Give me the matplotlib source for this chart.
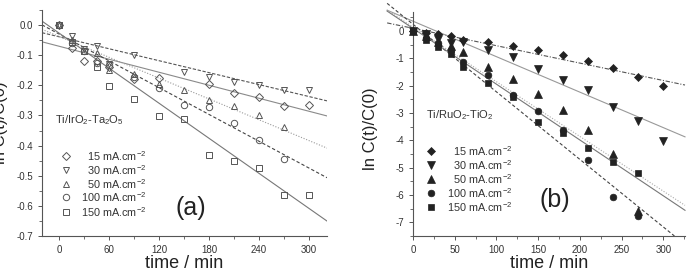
import numpy as np
import matplotlib
matplotlib.use("Agg")
import matplotlib.pyplot as plt
from matplotlib.ticker import MultipleLocator, FormatStrFormatter

plt.rcParams['font.family'] = ['Liberation Sans', 'DejaVu Sans']
plt.rcParams['axes.unicode_minus'] = False
plt.rcParams['mathtext.fontset'] = 'custom'
plt.rcParams['mathtext.rm'] = 'Liberation Sans'
plt.rcParams['mathtext.it'] = 'Liberation Sans:italic'
plt.rcParams['mathtext.bf'] = 'Liberation Sans:bold'
plt.rcParams['mathtext.default'] = 'regular'

# ---------------- data ----------------
labels = ["15", "30", "50", "100", "150"]

t_a = [0, 15, 30, 45, 60, 90, 120, 150, 180, 210, 240, 270, 300]
a_15 = [0.0, -0.076, -0.12, -0.12, -0.14, -0.178, -0.175, np.nan, -0.195, -0.225, -0.238, -0.268, -0.265]
a_30 = [0.0, -0.037, -0.081, -0.07, -0.13, -0.098, np.nan, -0.156, -0.172, -0.189, -0.2, -0.214, -0.214]
a_50 = [0.0, -0.05, -0.085, -0.094, -0.15, -0.163, -0.195, -0.214, -0.25, -0.27, -0.3, -0.337, np.nan]
a_100 = [0.0, -0.06, -0.085, -0.125, -0.133, -0.172, -0.208, -0.264, -0.272, -0.326, -0.383, -0.443, np.nan]
a_150 = [0.0, -0.055, -0.085, -0.139, -0.201, -0.247, -0.303, -0.313, -0.431, -0.452, -0.474, -0.563, -0.563]
a_series = [a_15, a_30, a_50, a_100, a_150]
a_slope = [-0.000718, -0.00066, -0.00115, -0.00148, -0.001936]
a_icpt = [-0.0704, -0.039, -0.038, -0.03, -0.027]

t_b = [0, 15, 30, 45, 60, 90, 120, 150, 180, 210, 240, 270, 300]
b_15 = [0.0, -0.07, -0.13, -0.2, -0.32, -0.4, -0.55, -0.71, -0.89, -1.11, -1.35, -1.7, -2.02]
b_30 = [0.0, -0.1, -0.3, -0.45, -0.41, -0.69, -0.96, -1.41, -1.8, -2.17, -2.78, -3.31, -4.02]
b_50 = [0.0, -0.2, -0.4, -0.56, -0.79, -1.31, -1.75, -2.31, -2.9, -3.64, -4.52, -6.59, np.nan]
b_100 = [0.0, -0.26, -0.44, -0.71, -1.13, -1.63, -2.35, -2.93, -3.63, -4.71, -6.09, -6.77, np.nan]
b_150 = [0.0, -0.32, -0.58, -0.83, -1.31, -1.92, -2.41, -3.34, -3.75, -4.3, -4.81, -5.21, np.nan]
b_series = [b_15, b_30, b_50, b_100, b_150]
b_slope = [-0.00636, -0.01297, -0.0200, -0.0247, -0.0204]
b_icpt = [0.093, 0.353, 0.14, 0.24, 0.09]

# ---------------- styles ----------------
a_markers = ['D', 'v', '^', 'o', 's']
a_msize = [4.0, 5.0, 5.0, 4.6, 4.2]
a_lcolor = ['#8a8a8a', '#555555', '#9a9a9a', '#444444', '#777777']
a_lstyle = ['-', (0, (3, 1.5)), (0, (1, 1.5)), (0, (3, 2)), '-']

b_markers = ['D', 'v', '^', 'o', 's']
b_msize = [4.2, 5.2, 5.2, 4.8, 4.6]
b_lcolor = ['#555555', '#999999', '#aaaaaa', '#444444', '#777777']
b_lstyle = [(0, (4, 1.5, 1, 1.5)), '-', (0, (1, 1.5)), (0, (3, 2)), '-']

fig = plt.figure(figsize=(6.9, 2.78), dpi=100)
ax_a = fig.add_axes([42/690, 1-236/278, (327-42)/690, (236-10)/278])
ax_b = fig.add_axes([413/690, 1-236/278, (685-413)/690, (236-11.7)/278])

axis_col = '#555555'
text_col = '#333333'

def style_axes(ax):
    for s in ['top', 'right']:
        ax.spines[s].set_visible(False)
    for s in ['left', 'bottom']:
        ax.spines[s].set_color(axis_col)
        ax.spines[s].set_linewidth(0.8)
    ax.tick_params(which='both', direction='out', colors=axis_col, labelcolor=text_col, labelsize=7)
    ax.tick_params(which='major', length=3, width=0.7)
    ax.tick_params(which='minor', length=2, width=0.6)
    ax.set_facecolor('none')

leg_fs = 7.8

# ---------------- panel (a) ----------------
ax = ax_a
style_axes(ax)
ax.set_xlim(-20.7, 322)
ax.set_ylim(-0.7, 0.05)
ax.xaxis.set_major_locator(MultipleLocator(60))
ax.xaxis.set_minor_locator(MultipleLocator(30))
ax.yaxis.set_major_locator(MultipleLocator(0.1))
ax.yaxis.set_minor_locator(MultipleLocator(0.05))
ax.yaxis.set_major_formatter(FormatStrFormatter('%.1f'))
tt = np.array([-20.7, 322])
for i in range(5):
    ax.plot(tt, a_slope[i]*tt + a_icpt[i], color=a_lcolor[i], ls=a_lstyle[i], lw=0.8, zorder=2)
for i in range(5):
    ax.plot(t_a, a_series[i], ls='none', marker=a_markers[i], ms=a_msize[i],
            mfc='none', mec='#555555', mew=0.7, zorder=3, clip_on=False)
ax.set_xlabel('time / min', fontsize=13, labelpad=0, color='#222222')
ax.set_ylabel('ln C(t)/C(0)', fontsize=12, color='#222222')
ax.yaxis.set_label_coords(-0.118, 0.5)
ax.text(0.046, 0.513, 'Ti/IrO$_2$-Ta$_2$O$_5$', transform=ax.transAxes, fontsize=8,
        color=text_col, ha='left', va='center')
ys = [0.354, 0.292, 0.230, 0.173, 0.106]
for i in range(5):
    ax.plot([0.084], [ys[i]], transform=ax.transAxes, marker=a_markers[i], ms=a_msize[i],
            mfc='none', mec='#555555', mew=0.7, ls='none', clip_on=False)
    ax.text(0.368, ys[i], labels[i] + ' mA.cm$^{-2}$', transform=ax.transAxes, fontsize=leg_fs,
            color=text_col, ha='right', va='center')
ax.text(0.523, 0.124, '(a)', transform=ax.transAxes, fontsize=18, color='#222222',
        ha='center', va='center')

# ---------------- panel (b) ----------------
ax = ax_b
style_axes(ax)
ax.set_xlim(0, 326)
ax.set_ylim(-7.5, 0.7)
ax.xaxis.set_major_locator(MultipleLocator(50))
ax.xaxis.set_minor_locator(MultipleLocator(25))
ax.yaxis.set_major_locator(MultipleLocator(1))
ax.yaxis.set_minor_locator(MultipleLocator(0.5))
ax.yaxis.set_major_formatter(FormatStrFormatter('%d'))
for i in range(5):
    t_end = 326.0
    yend = b_slope[i]*t_end + b_icpt[i]
    if yend < -7.5:
        t_end = (-7.5 - b_icpt[i]) / b_slope[i]
    tt = np.array([-31.0, t_end])
    ax.plot(tt, b_slope[i]*tt + b_icpt[i], color=b_lcolor[i], ls=b_lstyle[i], lw=0.8,
            zorder=2, clip_on=False)
for i in range(5):
    ax.plot(t_b, b_series[i], ls='none', marker=b_markers[i], ms=b_msize[i],
            mfc='#222222', mec='#222222', mew=0.5, zorder=3, clip_on=False)
ax.set_xlabel('time / min', fontsize=13, labelpad=0, color='#222222')
ax.set_ylabel('ln C(t)/C(0)', fontsize=12, color='#222222')
ax.yaxis.set_label_coords(-0.13, 0.48)
ax.text(0.048, 0.539, 'Ti/RuO$_2$-TiO$_2$', transform=ax.transAxes, fontsize=8,
        color=text_col, ha='left', va='center')
ys = [0.379, 0.317, 0.254, 0.192, 0.129]
for i in range(5):
    ax.plot([0.066], [ys[i]], transform=ax.transAxes, marker=b_markers[i], ms=b_msize[i],
            mfc='#222222', mec='#222222', mew=0.5, ls='none', clip_on=False)
    ax.text(0.364, ys[i], labels[i] + ' mA.cm$^{-2}$', transform=ax.transAxes, fontsize=leg_fs,
            color=text_col, ha='right', va='center')
ax.text(0.522, 0.16, '(b)', transform=ax.transAxes, fontsize=18, color='#222222',
        ha='center', va='center')

fig.savefig('out.png', dpi=100)
